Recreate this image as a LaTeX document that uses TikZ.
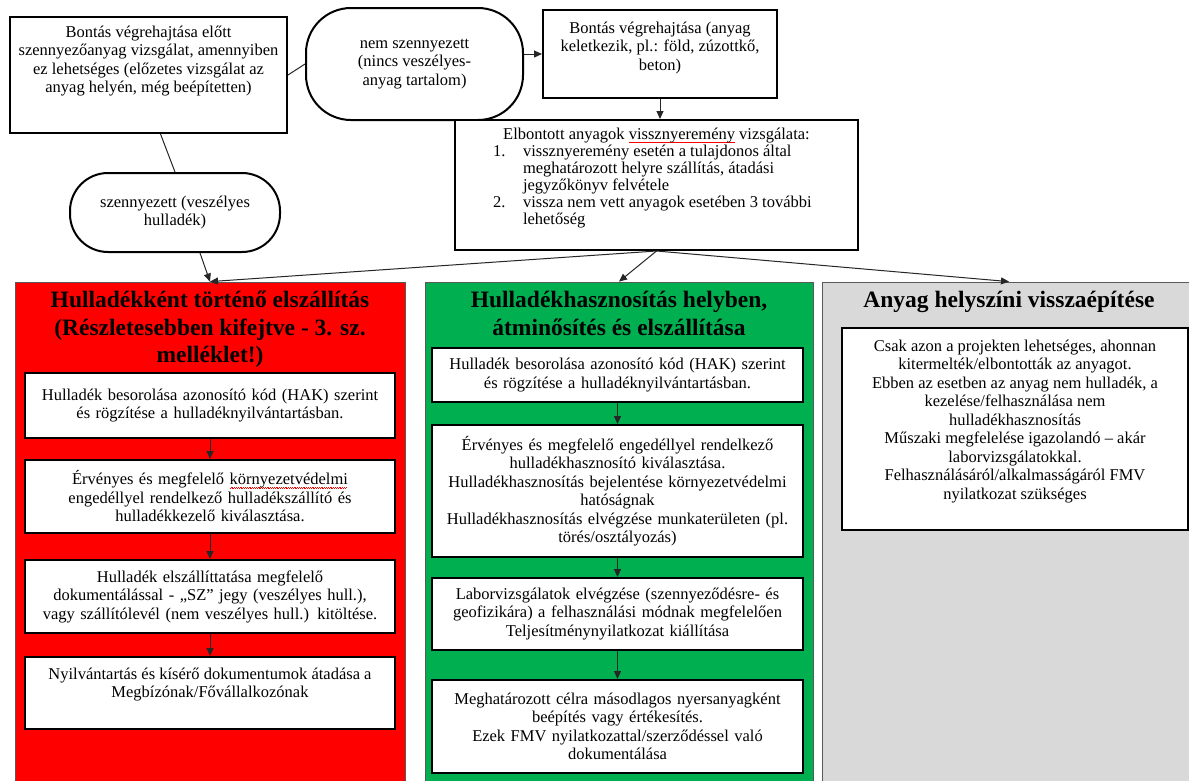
\documentclass[tikz,border=0pt]{standalone}
\usepackage{fontspec}
\setmainfont{Liberation Serif}
\usetikzlibrary{arrows.meta,calc}
\newsavebox{\swbox}
\newcommand{\spellwave}[1]{\leavevmode\sbox{\swbox}{#1}\rlap{\color{red}\hbox to\wd\swbox{\leaders\hbox{\rule[-3.6pt]{0.9pt}{0.6pt}\rule[-2.7pt]{0.9pt}{0.6pt}}\hfil}}\usebox{\swbox}}
\definecolor{colred}{HTML}{FF0000}
\definecolor{colgreen}{HTML}{00B050}
\definecolor{colgrey}{HTML}{D9D9D9}
\newcommand{\topbox}[4]{\parbox[c][#2][t]{#1}{\centering\vspace*{#3}#4}}
\begin{document}
\begin{tikzpicture}[x=1pt,y=-1pt,
  every node/.style={font=\fontsize{16.5}{18.5}\selectfont},
  pbox/.style={draw=black, line width=2pt, fill=white, inner sep=0pt},
  wbox/.style={pbox, align=center},
  col/.style={draw=black!65, line width=0.8pt, inner sep=0pt},
  head/.style={font=\fontsize{23.5}{27.5}\selectfont\bfseries, align=center, inner sep=0pt, anchor=north},
  arr/.style={line width=1pt, draw=black!85, -{Triangle[length=8pt,width=7pt]}},
  link/.style={line width=1pt, draw=black!85}]
\useasboundingbox (0,0) rectangle (1189,780);
\fill[white] (0,0) rectangle (1189,780);

% columns
\node[col, fill=colred, minimum width=390pt, minimum height=508pt] (red) at (210,536) {};
\node[col, fill=colgreen, minimum width=388pt, minimum height=508pt] (green) at (619,536) {};
\node[col, fill=colgrey, minimum width=374pt, minimum height=508pt] (grey) at (1009,536) {};

\node[head] (redh) at (210,291) {Hulladékként történő elszállítás\\(Részletesebben kifejtve - 3. sz.\\melléklet!)};
\node[head] (greenh) at (619,291) {Hulladékhasznosítás helyben,\\átminősítés és elszállítása};
\node[head] (greyh) at (1009,291) {Anyag helyszíni visszaépítése};

% top area
\node[pbox, minimum width=277pt] (A) at (148.5,75)
  {\topbox{270pt}{116pt}{9pt}{Bontás végrehajtása előtt\\szennyezőanyag vizsgálat, amennyiben\\ez lehetséges (előzetes vizsgálat az\\anyag helyén, még beépítetten)}};
\node[wbox, rounded corners=45pt, minimum width=217pt, minimum height=112pt] (nem) at (414.5,64)
  {nem szennyezett\\(nincs veszélyes-\\anyag tartalom)};
\node[pbox, minimum width=234pt] (B) at (660,54)
  {\topbox{230pt}{88pt}{12pt}{Bontás végrehajtása (anyag\\keletkezik, pl.: föld, zúzottkő,\\beton)}};
\node[pbox, minimum width=403pt] (C) at (656.5,185)
  {\parbox[c][130pt][t]{355pt}{\fontsize{16.5}{17}\selectfont\vspace*{8pt}\centering
   Elbontott anyagok \spellwave{vissznyeremény} vizsgálata:\par
   \raggedright
   \hspace*{14pt}\makebox[30pt][l]{1.}vissznyeremény esetén a tulajdonos által\\
   \hspace*{44pt}meghatározott helyre szállítás, átadási\\
   \hspace*{44pt}jegyzőkönyv felvétele\\
   \hspace*{14pt}\makebox[30pt][l]{2.}vissza nem vett anyagok esetében 3 további\\
   \hspace*{44pt}lehetőség}};
\node[wbox, rounded corners=38pt, minimum width=210pt, minimum height=79pt] (szen) at (175,212.5)
  {szennyezett (veszélyes\\hulladék)};

% red column boxes
\node[wbox, minimum width=370pt, minimum height=65pt, text width=364pt] (r1) at (210,405.5)
  {Hulladék besorolása azonosító kód (HAK) szerint\\és rögzítése a hulladéknyilvántartásban.};
\node[wbox, minimum width=370pt, minimum height=73pt, text width=364pt] (r2) at (210,496.5)
  {Érvényes és megfelelő \spellwave{környezetvédelmi}\\engedéllyel rendelkező hulladékszállító és\\hulladékkezelő kiválasztása.};
\node[wbox, minimum width=370pt, minimum height=73pt, text width=364pt] (r3) at (210,596.5)
  {Hulladék elszállíttatása megfelelő\\dokumentálással - „SZ” jegy (veszélyes hull.),\\vagy szállítólevél (nem veszélyes hull.) kitöltése.};
\node[pbox, minimum width=370pt] (r4) at (210,693)
  {\topbox{364pt}{72pt}{11pt}{Nyilvántartás és kísérő dokumentumok átadása a\\Megbízónak/Fővállalkozónak}};

% green column boxes
\node[wbox, minimum width=371pt, minimum height=54pt, text width=365pt] (g1) at (617.5,375)
  {Hulladék besorolása azonosító kód (HAK) szerint\\és rögzítése a hulladéknyilvántartásban.};
\node[wbox, minimum width=371pt, minimum height=132pt, text width=365pt] (g2) at (617.5,491)
  {Érvényes és megfelelő engedéllyel rendelkező\\hulladékhasznosító kiválasztása.\\Hulladékhasznosítás bejelentése környezetvédelmi\\hatóságnak\\Hulladékhasznosítás elvégzése munkaterületen (pl.\\törés/osztályozás)};
\node[wbox, minimum width=371pt, minimum height=72pt, text width=365pt] (g3) at (617.5,614)
  {Laborvizsgálatok elvégzése (szennyeződésre- és\\geofizikára) a felhasználási módnak megfelelően\\Teljesítménynyilatkozat kiállítása};
\node[wbox, minimum width=371pt, minimum height=93pt, text width=365pt] (g4) at (617.5,726.5)
  {Meghatározott célra másodlagos nyersanyagként\\beépítés vagy értékesítés.\\Ezek FMV nyilatkozattal/szerződéssel való\\dokumentálása};

% grey column box
\node[pbox, minimum width=346pt] (q1) at (1015,429)
  {\topbox{340pt}{202pt}{12pt}{Csak azon a projekten lehetséges, ahonnan\\kitermelték/elbontották az anyagot.\\Ebben az esetben az anyag nem hulladék, a\\kezelése/felhasználása nem\\hulladékhasznosítás\\Műszaki megfelelése igazolandó – akár\\laborvizsgálatokkal.\\Felhasználásáról/alkalmasságáról FMV\\nyilatkozat szükséges}};

% connectors
\draw[link] (A.east) -- (nem.west);
\draw[arr] (nem.east |- B.west) -- (B.west);
\draw[arr] (B.south) -- (B.south |- C.north);
\draw[link] ($(A.south)+(12,0)$) -- (szen.north);
\draw[arr] ($(szen.south)+(25,0)$) -- (red.north);
\draw[arr] (C.south) -- (red.north);
\draw[arr] (C.south) -- (green.north);
\draw[arr] (C.south) -- (grey.north);
\draw[arr] (r1) -- (r2);
\draw[arr] (r2) -- (r3);
\draw[arr] (r3) -- (r4);
\draw[arr] (g1) -- (g2);
\draw[arr] (g2) -- (g3);
\draw[arr] (g3) -- (g4);
\end{tikzpicture}
\end{document}
